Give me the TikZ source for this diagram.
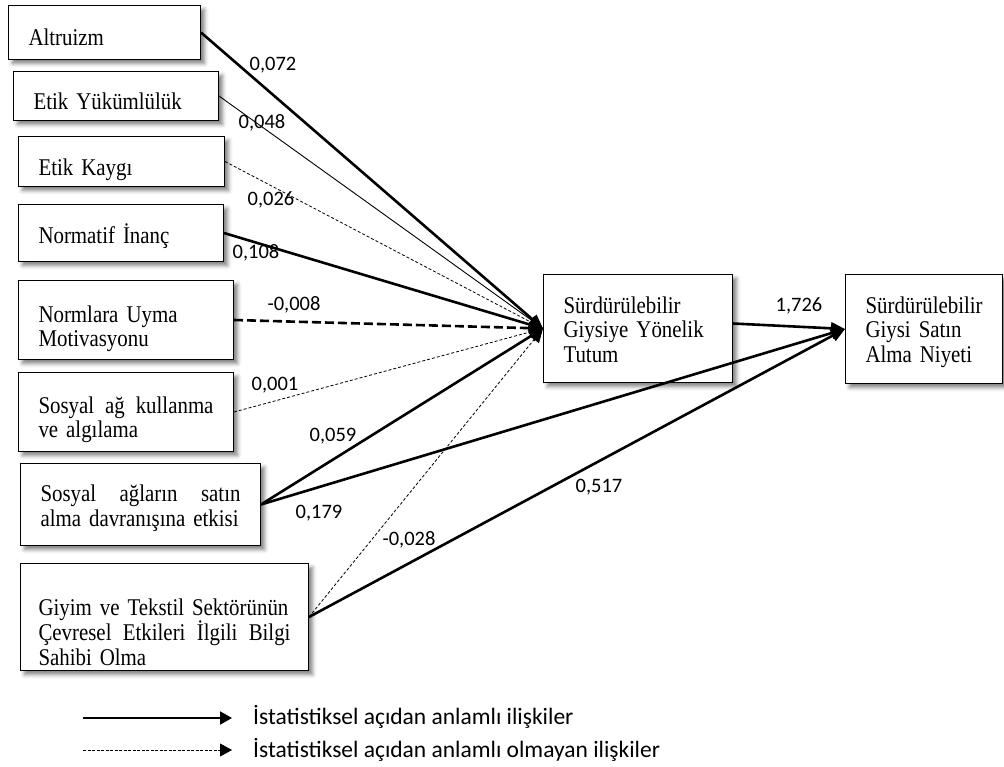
\documentclass[tikz,border=0pt]{standalone}
\usepackage{fontspec}
\setmainfont{Liberation Serif}[FakeStretch=0.87]
\newfontfamily\labelfont{Carlito}
\usetikzlibrary{arrows.meta,shadows.blur}
% condensed serif for the boxes, with its word space set explicitly
\DeclareRobustCommand\boxfont{\fontsize{24}{24.5}\selectfont
  \spaceskip=4.8pt plus 2.5pt minus 1.5pt\relax}

\begin{document}
\begin{tikzpicture}[x=1pt,y=-1pt,
  box/.style={draw=black, line width=1pt, fill=white, anchor=north west,
    inner xsep=20pt, inner ysep=0pt, align=left,
    font=\boxfont,
    blur shadow={shadow xshift=4pt, shadow yshift=-4pt,
      shadow blur radius=4pt, shadow opacity=50}},
  % first baseline sits (H-D)/2 below the box centre
  tpos/.style 2 args={text height=#1, text depth=#2},
  lbl/.style={font=\labelfont\fontsize{20.5}{24}\selectfont, inner sep=0pt},
  legtext/.style={font=\labelfont\fontsize{23.5}{26}\selectfont, inner sep=0pt, anchor=west},
  tip/.style={-{Triangle[length=14pt,width=12pt]}},
  sig/.style={tip, line width=2.6pt},
  sigthin/.style={tip, line width=0.9pt},
  nsig/.style={tip, line width=0.8pt, dash pattern=on 3pt off 2pt},
  nsigthick/.style={tip, line width=2.6pt, dash pattern=on 9pt off 4pt},
]
\useasboundingbox (0,0) rectangle (1004,767);

% predictor boxes
\node[box, tpos={26pt}{0pt}, text width=152pt, minimum height=54pt] (alt) at (8,5) {Altruizm};
\node[box, tpos={28pt}{0pt}, text width=165pt, minimum height=49pt] (ety) at (13,71) {Etik Yükümlülük};
\node[box, tpos={28pt}{0pt}, text width=166pt, minimum height=50pt] (etk) at (18,136) {Etik Kaygı};
\node[box, tpos={22pt}{0pt}, text width=165pt, minimum height=57pt] (nor) at (18,204) {Normatif İnanç};
\node[box, tpos={5pt}{0pt}, text width=175pt, minimum height=79pt] (nrm) at (18,280) {Normlara Uyma\\Motivasyonu};
\node[box, tpos={2pt}{0pt}, text width=175pt, minimum height=79pt] (sak) at (18,372) {Sosyal\hfill ağ\hfill kullanma\\ve algılama};
\node[box, tpos={0pt}{6pt}, text width=200pt, minimum height=82pt] (sas) at (20,463) {Sosyal\hfill ağların\hfill satın\\alma davranışına etkisi};
\node[box, tpos={0pt}{4pt}, inner xsep=18pt, text width=252pt, minimum height=107pt] (giy) at (20,563)
  {Giyim ve Tekstil Sektörünün\\Çevresel\hfill Etkileri\hfill İlgili\hfill Bilgi\\Sahibi Olma};

% mediator and outcome
\node[box, tpos={0pt}{30pt}, text width=149pt, minimum height=108pt] (tut) at (543,274) {Sürdürülebilir\\Giysiye Yönelik\\Tutum};
\node[box, tpos={0pt}{31pt}, text width=117pt, minimum height=109pt] (niy) at (845,274) {Sürdürülebilir\\Giysi Satın\\Alma Niyeti};

% paths into the attitude box
\draw[sig] (alt.east) -- (tut.west);
\draw[sigthin] (ety.east) -- (tut.west);
\draw[nsig] (etk.east) -- (tut.west);
\draw[sig] (nor.east) -- (tut.west);
\draw[nsigthick] (nrm.east) -- (tut.west);
\draw[nsig] (sak.east) -- (tut.west);
\draw[sig] (sas.east) -- (tut.west);
\draw[nsig] (giy.east) -- (tut.west);

% paths into the intention box
\draw[sig] ([yshift=5pt]tut.east) -- (niy.west);
\draw[sig] (sas.east) -- (niy.west);
\draw[sig] (giy.east) -- (niy.west);

% path coefficients
\node[lbl] (c1) at (273,65) {0,072};
\node[lbl] (c2) at (262,123) {0,048};
\node[lbl] (c3) at (271,200) {0,026};
\node[lbl] (c4) at (256,253) {0,108};
\node[lbl] (c5) at (294,305) {-0,008};
\node[lbl] (c6) at (275,385) {0,001};
\node[lbl] (c7) at (333,436) {0,059};
\node[lbl] (c8) at (319,513) {0,179};
\node[lbl] (c9) at (409,540) {-0,028};
\node[lbl] (c10) at (599,487) {0,517};
\node[lbl] (c11) at (799,306) {1,726};

% legend
\coordinate (la) at (83,718);
\coordinate (lb) at (232,718);
\coordinate (lc) at (83,750);
\coordinate (ld) at (232,750);
\draw[line width=2pt, -{Triangle[length=12pt,width=13pt]}] (la) -- (lb);
\draw[line width=0.8pt, dash pattern=on 3pt off 1.5pt, -{Triangle[length=12pt,width=13pt]}] (lc) -- (ld);
\node[legtext] (t1) at (253,717) {İstatistiksel açıdan anlamlı ilişkiler};
\node[legtext] (t2) at (253,750) {İstatistiksel açıdan anlamlı olmayan ilişkiler};
\end{tikzpicture}
\end{document}
